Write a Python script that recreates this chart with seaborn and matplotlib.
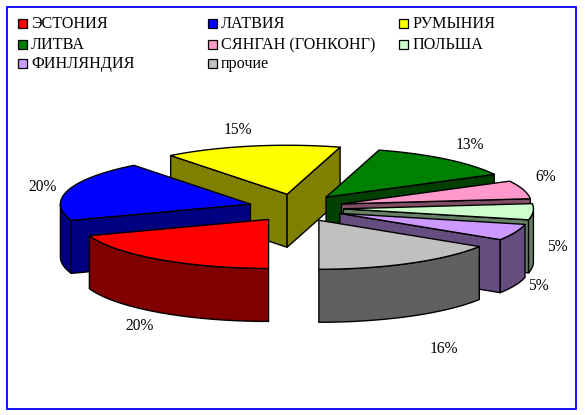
import numpy as np
import matplotlib
matplotlib.use("Agg")
import matplotlib.pyplot as plt
import seaborn as sns

categories = ["ЭСТОНИЯ", "ЛАТВИЯ", "РУМЫНИЯ", "ЛИТВА", "СЯНГАН (ГОНКОНГ)", "ПОЛЬША", "ФИНЛЯНДИЯ", "прочие"]
shares = [19.6, 19.9, 15.0, 12.8, 6.0, 5.3, 5.4, 16.0]
top_colors = ["#FF0000", "#0000FF", "#FFFF00", "#008000", "#FF99CC", "#CCFFCC", "#CC99FF", "#C0C0C0"]

sns.set_theme(style="white")
plt.rcParams["font.family"] = ["Liberation Serif", "DejaVu Serif"]

palette = sns.color_palette(top_colors)
W, H = 585, 415
fig = plt.figure(figsize=(W / 100, H / 100), dpi=100, facecolor="white")
ax = fig.add_axes([0, 0, 1, 1])
ax.set_xlim(0, W)
ax.set_ylim(H, 0)
ax.axis("off")

# frame
ax.add_patch(plt.Rectangle((6.5, 7.5), 569, 401, fill=False, ec="#0000FF", lw=1.3))

# pie geometry
cx, cy, rx, ry, explode_x, explode_y, depth = 296, 208, 190, 49, 47.5, 14, 53
fracs = np.array(shares) / sum(shares)
edges = np.concatenate([[0], np.cumsum(fracs)]) * 360


def rim(c, deg):
    t = np.radians(deg)
    return np.column_stack([c[0] - rx * np.sin(t), c[1] + ry * np.cos(t)])


def face(pts, col, z):
    ax.fill(pts[:, 0], pts[:, 1], fc=col, ec="black", lw=1.0, joinstyle="round", zorder=z)


def down(pts):
    return pts + np.array([0, depth])


slices = []
for i in range(len(shares)):
    a, b = edges[i], edges[i + 1]
    mid = np.radians((a + b) / 2)
    c = (cx - explode_x * np.sin(mid), cy + explode_y * np.cos(mid))
    slices.append((c[1], i, a, b, c))
slices.sort(key=lambda s: s[0])

for z, (_, i, a, b, c) in enumerate(slices):
    base = 10 + z * 5
    col = np.array(palette[i])
    dark = tuple(col * 0.5)
    apex = np.array([c])
    # radial faces turned to the viewer
    for ang, visible in ((a, np.sin(np.radians(a)) > 0.01), (b, np.sin(np.radians(b)) < -0.01)):
        if visible:
            p = rim(c, np.array([ang]))
            q = np.vstack([apex, p, down(p), down(apex)])
            face(q, dark, base)
    # outer wall on the front half
    for lo, hi in ((0, 90), (270, 360)):
        l, h = max(a, lo), min(b, hi)
        if h > l:
            p = rim(c, np.linspace(l, h, 40))
            q = np.vstack([p, down(p)[::-1]])
            face(q, dark, base + 1)
    # top
    p = rim(c, np.linspace(a, b, 80))
    face(np.vstack([apex, p]), tuple(col), base + 2)

# percentage labels
label_pos = [(140, 326), (43, 187), (238, 130), (470, 145), (546, 177), (557, 247), (538, 286), (444, 349)]
for (x, y), v in zip(label_pos, shares):
    ax.text(x, y, f"{round(v)}%", ha="center", va="center", fontsize=11.2, color="black", zorder=100)

# legend
col_x = [18, 208, 399]
row_y = [24, 45, 64]
for i, name in enumerate(categories):
    x, y = col_x[i % 3], row_y[i // 3]
    ax.add_patch(plt.Rectangle((x, y - 4.5), 9, 9, fc=palette[i], ec="black", lw=0.9, zorder=100))
    ax.text(x + 13, y, name, ha="left", va="center", fontsize=11.6, color="black", zorder=100)

fig.savefig("out.png", dpi=100)
